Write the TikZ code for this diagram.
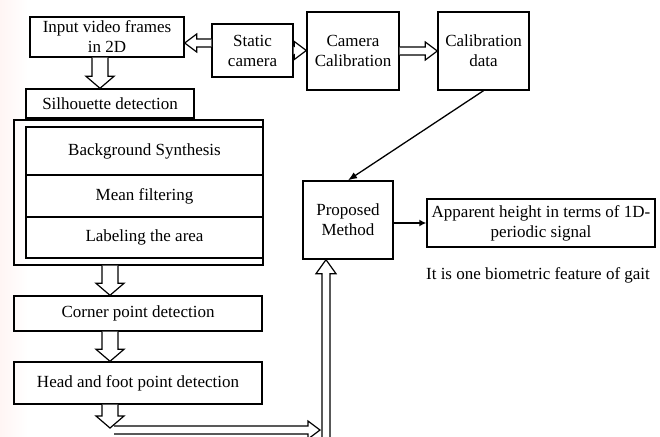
\documentclass[tikz,border=0pt]{standalone}
\usepackage{fontspec}
\setmainfont{Liberation Serif}
\usetikzlibrary{arrows.meta,calc}
% hollow block arrow: from, to, half shaft, half head, head length
\newcommand\hollowarrow[5]{%
  \filldraw[fill=white, line width=1.2pt, line join=miter] let \p1=(#1), \p2=(#2),
    \n1={atan2(\y2-\y1,\x2-\x1)}, \n2={veclen(\x2-\x1,\y2-\y1)} in
    [shift={(\p1)}, rotate=\n1]
    (0,#3) -- ({\n2-#5},#3) -- ({\n2-#5},#4) -- (\n2,0)
    -- ({\n2-#5},-#4) -- ({\n2-#5},-#3) -- (0,-#3);}

\begin{document}
\begin{tikzpicture}[x=1pt, y=-1pt, >=latex,
    box/.style={draw, line width=1.4pt, align=center, inner sep=0pt,
        font=\fontsize{17}{20}\selectfont}]
\useasboundingbox (0,0) rectangle (660,436);
\shade[left color=orange!6!pink!15, right color=white] (0,0) rectangle (28,436);
% top row
\node[box, minimum width=154, minimum height=40] (input) at (107,37) {Input video frames\\in 2D};
\node[box, minimum width=81, minimum height=53] (static) at (252.5,50.5) {Static\\camera};
\node[box, minimum width=92, minimum height=78] (calib) at (353,51) {Camera\\Calibration};
\node[box, minimum width=91, minimum height=78] (data) at (483.5,51) {Calibration\\data};
% silhouette block
\node[box, minimum width=168, minimum height=29] (silh) at (110,103.5) {Silhouette detection};
\node[box, minimum width=249, minimum height=145] (outer) at (138.5,192.5) {};
\node[box, minimum width=237, minimum height=48] (bg) at (144.5,151) {Background Synthesis};
\node[box, minimum width=237, minimum height=42] (mean) at (144.5,196) {Mean filtering};
\node[box, minimum width=237, minimum height=41] (label) at (144.5,237.5) {Labeling the area};
% lower steps
\node[box, minimum width=248, minimum height=35] (corner) at (138,313.5) {Corner point detection};
\node[box, minimum width=248, minimum height=42] (head) at (138,383) {Head and foot point detection};
% right side
\node[box, minimum width=90, minimum height=78] (proposed) at (348,220) {Proposed\\Method};
\node[box, minimum width=228, minimum height=48] (apparent) at (541,223) {Apparent height in terms of 1D-\\periodic signal};
\node[font=\fontsize{17}{20}\selectfont] (note) at (538,275) {It is one biometric feature of gait};
\coordinate (turn) at (110,428);
\coordinate (bend) at (320,430);
\coordinate (foot) at (326,437);
% connectors
\hollowarrow{static.west |- 0,43}{input.east |- 0,43}{4}{9}{12}
\hollowarrow{static.east}{calib.west |- static.east}{4}{9}{12}
\hollowarrow{calib.east}{data.west}{4}{9}{12}
\hollowarrow{input.south -| 100,0}{silh.north -| 100,0}{8}{14}{12}
\hollowarrow{outer.south -| 110,0}{corner.north -| 110,0}{8}{14}{12}
\hollowarrow{corner.south -| 110,0}{head.north -| 110,0}{8}{14}{12}
\hollowarrow{head.south -| 110,0}{turn}{8}{14}{12}
\hollowarrow{114,430}{bend}{4}{9}{12}
\hollowarrow{foot}{proposed.south -| foot}{4}{10}{14}
\draw[-{Latex[length=9pt, width=7pt]}, line width=1.3pt] (data.south) -- (proposed.north);
\draw[-{Latex[length=7pt, width=7pt]}, line width=2.2pt] (proposed.east |- apparent.west) -- (apparent.west);
\end{tikzpicture}
\end{document}
